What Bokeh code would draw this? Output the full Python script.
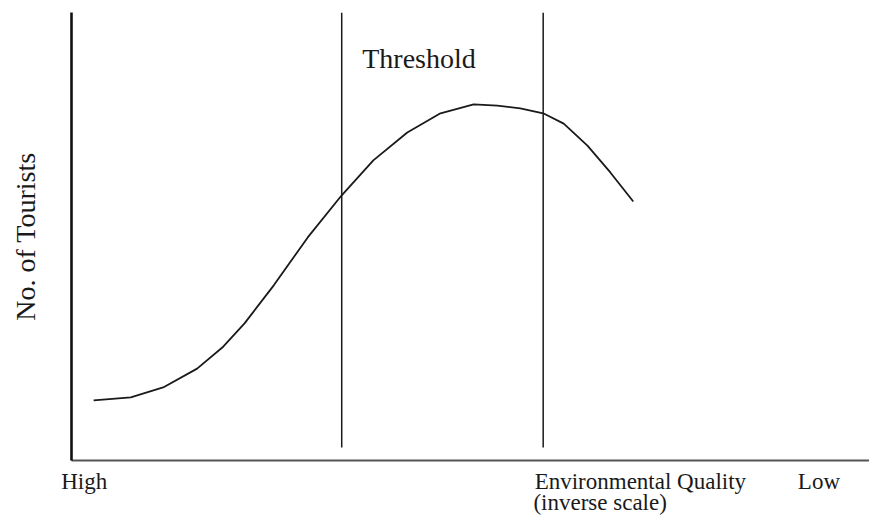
from bokeh.plotting import figure
from bokeh.models import Range1d, Label, FixedTicker
from bokeh.embed import file_html
from bokeh.resources import INLINE

# ---- data (abstract units) ----
curve_x = [0.28, 0.75, 1.16, 1.59, 1.92, 2.19, 2.56, 2.99, 3.42, 3.82,
           4.25, 4.67, 5.09, 5.39, 5.68, 5.97, 6.23, 6.53, 6.82, 7.11]
curve_y = [1.34, 1.41, 1.63, 2.05, 2.54, 3.06, 3.91, 4.98, 5.92, 6.70,
           7.32, 7.75, 7.95, 7.92, 7.86, 7.75, 7.52, 7.03, 6.43, 5.78]
threshold_x = [3.42, 5.97]
threshold_y0 = 0.29
threshold_y1 = 10.0
threshold_label = "Threshold"
y_label = "No. of Tourists"
x_tick_pos = [0.16, 7.2, 9.46]
NB = "\u00a0"
x_tick_labels = ["High",
                 "Environmental Quality\n(inverse scale)" + NB * 14,
                 "Low"]

FONT = "Liberation Serif"
INK = "#1a1a1a"

p = figure(width=869, height=519, output_backend="svg", toolbar_location=None,
           x_range=Range1d(0, 10.1), y_range=Range1d(0, 10),
           min_border_left=71, min_border_right=0, min_border_top=12,
           min_border_bottom=59)
p.outline_line_color = None
p.xgrid.visible = False
p.ygrid.visible = False
p.background_fill_color = "white"
p.border_fill_color = "white"

# y axis: plain line with a title
ya = p.yaxis[0]
ya.ticker = FixedTicker(ticks=[])
ya.major_tick_line_color = None
ya.minor_tick_line_color = None
ya.major_label_text_font_size = "0px"
ya.major_label_standoff = 0
ya.axis_line_width = 2.6
ya.axis_line_color = "#111111"
ya.axis_label = y_label
ya.axis_label_text_font = FONT
ya.axis_label_text_font_size = "28px"
ya.axis_label_text_font_style = "normal"
ya.axis_label_text_color = INK
ya.axis_label_standoff = 31

# x axis: line with three word labels
xa = p.xaxis[0]
xa.ticker = FixedTicker(ticks=x_tick_pos)
xa.major_label_overrides = {t: s for t, s in zip(x_tick_pos, x_tick_labels)}
xa.major_tick_line_color = None
xa.major_tick_in = 0
xa.major_tick_out = 0
xa.minor_tick_line_color = None
xa.major_label_text_font = FONT
xa.major_label_text_font_size = "23px"
xa.major_label_text_color = INK
xa.major_label_text_line_height = 0.85
xa.major_label_standoff = 8
xa.axis_line_width = 2
xa.axis_line_color = "#555555"

# threshold lines
p.segment(x0=threshold_x, x1=threshold_x, y0=[threshold_y0] * 2,
          y1=[threshold_y1] * 2, line_color=INK, line_width=1.5)

# curve
p.line(curve_x, curve_y, line_color=INK, line_width=1.8, line_join="round")

p.add_layout(Label(x=3.68, y=8.97, text=threshold_label, text_font=FONT,
                   text_font_size="28px", text_color=INK,
                   text_baseline="alphabetic", text_align="left"))

open("out.html", "w").write(file_html(p, INLINE))
